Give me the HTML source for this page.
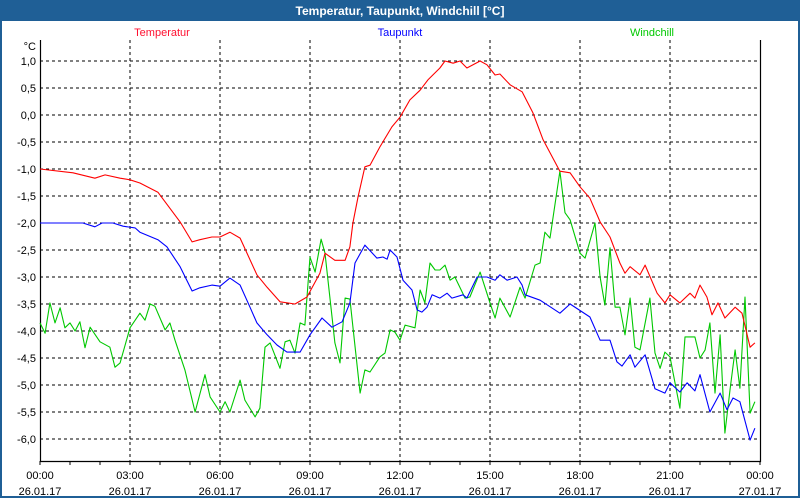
<!DOCTYPE html>
<html><head><meta charset="utf-8"><style>
body{margin:0;width:800px;height:500px;overflow:hidden;background:#fff;font-family:"Liberation Sans",sans-serif}
#win{position:absolute;left:0;top:0;width:796px;height:496px;border:2px solid #1f5f96;border-top:none;background:#fff}
#title{position:absolute;left:0;top:0;width:800px;height:21px;background:#1f5f96;color:#fff;font-weight:bold;font-size:12px;text-align:center;line-height:22px}
svg{position:absolute;left:0;top:0}
text{font-family:"Liberation Sans",sans-serif;font-size:11px}
</style></head><body>
<div id="win"></div>
<div id="title">Temperatur, Taupunkt, Windchill [°C]</div>
<svg id="chart" width="800" height="500"></svg>
<script>
const yTicks=[1.0,0.5,0.0,-0.5,-1.0,-1.5,-2.0,-2.5,-3.0,-3.5,-4.0,-4.5,-5.0,-5.5,-6.0];
const xTickHours=[0,3,6,9,12,15,18,21,24];
const xTickTimes=["00:00","03:00","06:00","09:00","12:00","15:00","18:00","21:00","00:00"];
const xTickDates=["26.01.17","26.01.17","26.01.17","26.01.17","26.01.17","26.01.17","26.01.17","26.01.17","27.01.17"];
const tempH=[0,1.1,1.83,2.17,2.67,3,3.33,3.93,4.67,5.07,5.33,5.73,6,6.33,6.67,7.23,7.57,8,8.5,8.9,9.33,9.5,9.83,10.17,10.33,10.43,10.6,10.83,11,11.33,11.73,12,12.33,12.67,12.93,13.33,13.5,13.77,14,14.23,14.67,14.9,15.17,15.33,15.67,16.07,16.43,16.77,17.33,17.67,18,18.33,18.67,19,19.33,19.5,19.67,20,20.17,20.57,20.83,21,21.33,21.67,21.83,22,22.23,22.4,22.6,22.83,23.17,23.4,23.67,23.83];
const tempV=[-1.0,-1.07,-1.17,-1.11,-1.17,-1.2,-1.26,-1.43,-1.98,-2.35,-2.31,-2.26,-2.26,-2.17,-2.28,-2.96,-3.19,-3.46,-3.5,-3.37,-2.93,-2.56,-2.69,-2.69,-2.44,-2.0,-1.52,-0.96,-0.93,-0.59,-0.22,-0.04,0.28,0.46,0.65,0.87,1.0,0.96,1.0,0.87,1.0,0.93,0.74,0.76,0.56,0.43,0.04,-0.46,-1.04,-1.07,-1.33,-1.54,-1.98,-2.26,-2.74,-2.93,-2.81,-2.96,-2.78,-3.3,-3.48,-3.33,-3.48,-3.3,-3.39,-3.15,-3.37,-3.7,-3.48,-3.76,-3.56,-3.67,-4.3,-4.22];
const dewH=[0,1.43,1.83,2.07,2.43,2.77,3.17,3.33,3.93,4.23,4.67,5.07,5.33,5.73,6,6.33,6.67,7,7.23,7.57,7.9,8.23,8.67,9,9.4,9.73,10.07,10.33,10.5,10.83,11.23,11.43,11.57,11.67,11.9,12.1,12.4,12.57,12.73,12.9,13.07,13.33,13.57,13.73,14.1,14.23,14.57,14.9,15.17,15.33,15.57,15.9,16.07,16.17,16.67,17.33,17.67,18.33,18.67,19,19.23,19.4,19.67,19.83,20.17,20.5,20.83,21,21.33,21.57,21.83,22,22.33,22.67,22.9,23.1,23.33,23.67,23.83];
const dewV=[-2.0,-2.0,-2.07,-2.0,-2.0,-2.06,-2.09,-2.17,-2.31,-2.44,-2.81,-3.26,-3.2,-3.15,-3.17,-3.02,-3.15,-3.56,-3.85,-4.07,-4.26,-4.39,-4.39,-4.07,-3.76,-3.93,-3.83,-3.48,-2.74,-2.41,-2.65,-2.63,-2.67,-2.5,-2.63,-3.06,-3.24,-3.61,-3.65,-3.56,-3.33,-3.39,-3.3,-3.39,-3.33,-3.39,-3.0,-3.0,-3.06,-2.96,-3.06,-3.0,-3.15,-3.33,-3.43,-3.67,-3.5,-3.74,-4.17,-4.17,-4.57,-4.65,-4.44,-4.67,-4.44,-5.07,-5.15,-4.96,-5.13,-4.96,-5.11,-4.81,-5.5,-5.15,-5.46,-5.24,-5.31,-6.02,-5.8];
const windH=[0,0.17,0.33,0.5,0.67,0.83,1,1.17,1.33,1.5,1.67,2,2.33,2.5,2.67,3,3.33,3.5,3.67,3.83,4.17,4.33,4.5,4.83,5.17,5.5,5.67,6,6.17,6.33,6.67,6.83,7.17,7.33,7.5,7.67,8,8.17,8.33,8.5,8.67,8.83,9,9.17,9.37,9.5,9.83,10,10.17,10.33,10.67,10.83,11,11.33,11.5,11.67,11.83,12,12.17,12.5,12.67,12.83,13,13.17,13.33,13.5,13.67,13.83,14.17,14.33,14.67,15,15.17,15.33,15.67,16,16.17,16.5,16.67,16.83,17,17.33,17.5,17.67,18,18.17,18.5,18.67,18.83,19,19.17,19.33,19.5,19.67,19.83,20,20.33,20.5,20.67,20.83,21,21.33,21.5,21.83,22,22.17,22.33,22.5,22.67,22.83,23,23.17,23.33,23.5,23.67,23.83];
const windV=[-3.85,-4.04,-3.48,-3.85,-3.57,-3.94,-3.85,-4.0,-3.83,-4.31,-3.93,-4.2,-4.3,-4.67,-4.59,-3.94,-3.67,-3.8,-3.5,-3.54,-3.98,-3.85,-4.17,-4.72,-5.5,-4.81,-5.22,-5.5,-5.31,-5.5,-4.91,-5.28,-5.59,-5.43,-4.3,-4.22,-4.69,-4.2,-4.17,-4.41,-3.85,-3.89,-2.63,-2.91,-2.3,-2.56,-4.22,-4.59,-3.39,-3.41,-5.15,-4.72,-4.76,-4.48,-4.41,-3.98,-4.02,-4.17,-3.89,-3.94,-3.24,-3.48,-2.74,-2.87,-2.87,-2.78,-3.06,-3.0,-3.39,-3.37,-2.91,-3.48,-3.76,-3.39,-3.74,-3.19,-3.39,-2.78,-2.74,-2.17,-2.28,-1.04,-1.81,-1.94,-2.56,-2.65,-2.0,-3.0,-3.52,-2.46,-3.56,-3.56,-4.07,-3.39,-4.3,-4.35,-3.39,-4.41,-4.69,-4.39,-4.48,-5.43,-4.11,-4.11,-4.5,-4.35,-3.85,-5.15,-4.07,-5.89,-5.09,-4.35,-5.06,-3.37,-5.52,-5.31];

const L=40,R=760,T=40,B=461;
const xs=h=>L+h*(R-L)/24;
const ys=v=>61-(v-1)*54;
const NS="http://www.w3.org/2000/svg";
const svg=document.getElementById('chart');
function mk(tag,attrs,parent){const e=document.createElementNS(NS,tag);for(const k in attrs)e.setAttribute(k,attrs[k]);(parent||svg).appendChild(e);return e;}

// grid
yTicks.forEach(v=>{
  const g=mk('line',{x1:L,x2:R,y1:ys(v),y2:ys(v),stroke:'#000','stroke-dasharray':'3,3','stroke-width':1,'shape-rendering':'crispEdges'});
  
  
  const t=mk('text',{x:36,y:ys(v)+4,'text-anchor':'end',fill:'#000'});
  t.textContent=v.toFixed(1).replace('.',',');
  
  
});
xTickHours.forEach((h,i)=>{
  if(h>0&&h<24){
    const g=mk('line',{x1:xs(h),x2:xs(h),y1:T,y2:B,stroke:'#000','stroke-dasharray':'3,3','stroke-width':1,'shape-rendering':'crispEdges'});
    
    
  }
  const t1=mk('text',{x:xs(h),y:479,'text-anchor':'middle',fill:'#000'});
  t1.textContent=xTickTimes[i];
  
  
  const t2=mk('text',{x:xs(h),y:495,'text-anchor':'middle',fill:'#000'});
  t2.textContent=xTickDates[i];
  
  
});
for(let h=0;h<=24;h++){
  const tk=mk('line',{x1:xs(h),x2:xs(h),y1:B,y2:B+4,stroke:'#000','shape-rendering':'crispEdges'});
  
  
}
// axes
const ax=mk('path',{d:`M${L+0.5},${T} V${B+0.5} H${R+0.5} V${T}`,fill:'none',stroke:'#000','stroke-width':1.2});


const unit=mk('text',{x:36,y:50,'text-anchor':'end',fill:'#000'});
unit.textContent='°C';



function series(H,V,color,name){
  const d=H.map((h,i)=>(i?'L':'M')+xs(h).toFixed(1)+','+ys(V[i]).toFixed(1)).join(' ');
  const p=mk('path',{d:d,fill:'none',stroke:color,'stroke-width':1.1,'stroke-linejoin':'round'});
  
  
}
series(windH,windV,'#00c800','windchill-line');
series(dewH,dewV,'#0000ff','taupunkt-line');
series(tempH,tempV,'#ff0000','temperatur-line');

const legends=[["Temperatur",162,'#ff1030','legend-temperatur'],["Taupunkt",400,'#0000ff','legend-taupunkt'],["Windchill",652,'#00c800','legend-windchill']];
legends.forEach(l=>{
  const t=mk('text',{x:l[1],y:36,'text-anchor':'middle',fill:l[2]});
  t.textContent=l[0];
  
  
});
</script>
</body></html>
